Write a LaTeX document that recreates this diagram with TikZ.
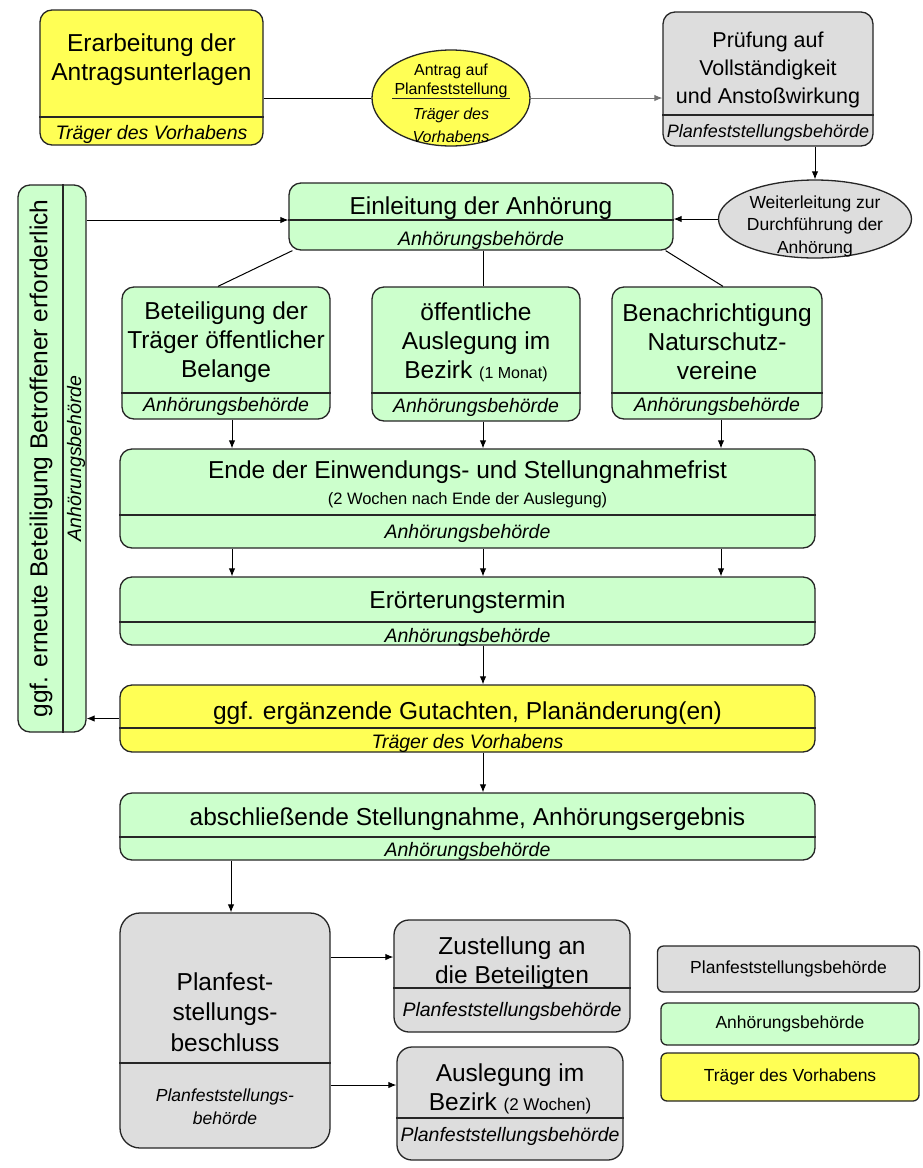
\documentclass[tikz,border=0pt]{standalone}
\usepackage{fontspec}
\setmainfont{Liberation Sans}
\usetikzlibrary{shapes.geometric,arrows.meta}

\definecolor{cYel}{RGB}{255,255,85}
\definecolor{cGrn}{RGB}{204,255,204}
\definecolor{cGry}{RGB}{221,221,221}

\tikzset{
  boxline/.style={draw=black!85, line width=1.3pt},
  stagebox/.style={boxline, rectangle, rounded corners=12pt, inner sep=0pt},
  stagex/.style={},
  titlex/.style={},
  subx/.style={},
  divline/.style={draw=black!85, line width=1.2pt},
  titletext/.style={align=center, inner sep=0pt, font=\fontsize{24.5}{29}\selectfont},
  subtext/.style={align=center, inner sep=0pt, font=\fontsize{19.5}{22.5}\selectfont\itshape},
  elltext/.style={align=center, inner sep=0pt, font=\fontsize{16}{19}\selectfont},
  conn/.style={draw=black, line width=1pt},
  arr/.style={conn, -{Latex[length=8pt,width=6.5pt]}},
  legendbox/.style={boxline, rectangle, rounded corners=6pt, inner sep=0pt, font=\fontsize{17.5}{20}\selectfont},
}

\def\tdy{5}
\def\sdy{2}
% name, fill, x1, y1, x2, y2, ydiv, title, sub
\newcommand\stage[9]{%
  \node[stagebox, stagex, fill=#2, minimum width={#5-#3}, minimum height={#6-#4}] (#1) at ({(#3+#5)/2},{(#4+#6)/2}) {};
  \coordinate (#1-d) at (0,#7);
  \draw[divline] (#1.west |- #1-d) -- (#1.east |- #1-d);
  \node[titletext, titlex] (#1-t) at ({(#3+#5)/2},{(#4+#7)/2+\tdy}) {#8};
  \node[subtext, subx] (#1-s) at ({(#3+#5)/2},{(#7+#6)/2+\sdy}) {#9};
}

\begin{document}
\begin{tikzpicture}[x=1pt,y=-1pt]
\useasboundingbox (0,0) rectangle (922,1168);
\fill[white] (0,0) rectangle (922,1168);

% column coordinates
\coordinate (colL) at (232,0);
\coordinate (colM) at (483,0);
\coordinate (colR) at (721,0);
\coordinate (colP) at (231,0);
\coordinate (yA) at (0,957);
\coordinate (yB) at (0,1085);

% top row
\def\tdy{-3.5}\def\sdy{3}
\stage{erarb}{cYel}{40}{10}{263}{145}{117}{Erarbeitung der\\Antragsunterlagen}{Träger des Vorhabens}

\node[ellipse, boxline, fill=cYel, minimum width=158, minimum height=96, inner sep=0pt] (antrag) at (451,98) {};
\node[elltext] (antrag-1) at (451,71) {Antrag auf};
\node[elltext] (antrag-2) at (451,90.5) {Planfeststellung};
\coordinate (ul1) at (392,98);
\coordinate (ul2) at (510,98);
\draw[divline, line width=1pt] (ul1) -- (ul2);
\node[elltext, font=\fontsize{16}{19}\selectfont\itshape] (antrag-3) at (451,115.5) {Träger des};
\node[elltext, font=\fontsize{16}{19}\selectfont\itshape] (antrag-4) at (451,137) {Vorhabens};

\def\tdy{6.5}\def\sdy{2.5}
\tikzset{titlex/.style={font=\fontsize{21.5}{28}\selectfont}, subx/.style={font=\fontsize{18}{20}\selectfont\itshape}}
\stage{pruef}{cGry}{663}{12}{873}{146}{115}{Prüfung auf\\Vollständigkeit\\und Anstoßwirkung}{Planfeststellungsbehörde}
\tikzset{titlex/.style={}, subx/.style={}}

\node[ellipse, boxline, fill=cGry, minimum width=193, minimum height=78, inner sep=0pt] (weiter) at (815,219) {};
\node[elltext, font=\fontsize{17.5}{22.5}\selectfont] (weiter-t) at (815,226) {Weiterleitung zur\\Durchführung der\\Anhörung};

% left vertical box
\node[stagebox, fill=cGrn, minimum width=68, minimum height=547] (left) at (52,458.5) {};
\coordinate (left-d) at (63,0);
\draw[divline] (left-d |- left.north) -- (left-d |- left.south);
\node[titletext, rotate=90] (left-t) at (41,458.5) {ggf. erneute Beteiligung Betroffener erforderlich};
\node[subtext, rotate=90] (left-s) at (76,458.5) {Anhörungsbehörde};

% Einleitung
\def\tdy{7}\def\sdy{5}
\stage{einl}{cGrn}{289}{183}{673}{250}{220}{Einleitung der Anhörung}{Anhörungsbehörde}

% three boxes
\def\tdy{2}\def\sdy{0.5}
\stage{bet}{cGrn}{122}{287}{330}{419}{393}{Beteiligung der\\Träger öffentlicher\\Belange}{Anhörungsbehörde}
\stage{oef}{cGrn}{372}{287}{580}{421}{393}{öffentliche\\Auslegung im\\Bezirk {\fontsize{16}{18}\selectfont (1 Monat)}}{Anhörungsbehörde}
\stage{ben}{cGrn}{612}{287}{822}{419}{393}{Benachrichtigung\\Naturschutz-\\vereine}{Anhörungsbehörde}

% Ende box (two-line title)
\node[stagebox, fill=cGrn, minimum width=695, minimum height=99] (ende) at (467.5,498.5) {};
\coordinate (ende-d) at (0,515);
\draw[divline] (ende.west |- ende-d) -- (ende.east |- ende-d);
\node[titletext] (ende-t) at (467.5,472.5) {Ende der Einwendungs- und Stellungnahmefrist};
\node[titletext, font=\fontsize{16.5}{19}\selectfont] (ende-t2) at (467.5,500.5) {(2 Wochen nach Ende der Auslegung)};
\node[subtext] (ende-s) at (467.5,533) {Anhörungsbehörde};

\def\tdy{3}\def\sdy{3.5}
\stage{eror}{cGrn}{120}{577}{815}{645}{622}{Erörterungstermin}{Anhörungsbehörde}
\def\tdy{7}\def\sdy{3.5}
\stage{ggf}{cYel}{120}{685}{815}{752}{728}{ggf. ergänzende Gutachten, Planänderung(en)}{Träger des Vorhabens}
\def\tdy{4}\def\sdy{2.5}
\stage{absch}{cGrn}{120}{793}{815}{860}{837}{abschließende Stellungnahme, Anhörungsergebnis}{Anhörungsbehörde}

% bottom
\tikzset{stagex/.style={rounded corners=20pt}, titlex/.style={font=\fontsize{24.5}{30.5}\selectfont}, subx/.style={font=\fontsize{17.5}{22.5}\selectfont\itshape}}
\def\tdy{24}\def\sdy{1}
\stage{planf}{cGry}{120}{913}{330}{1148}{1063}{Planfest-\\stellungs-\\beschluss}{Planfeststellungs-\\behörde}
\tikzset{stagex/.style={rounded corners=15pt}, titlex/.style={}, subx/.style={}}
\def\tdy{8.5}\def\sdy{1}
\stage{zust}{cGry}{394}{920}{630}{1032}{988}{Zustellung an\\die Beteiligten}{Planfeststellungsbehörde}
\def\tdy{6}\def\sdy{-3}
\stage{ausl}{cGry}{397}{1047}{623}{1160}{1118}{Auslegung im\\Bezirk {\fontsize{17}{19}\selectfont (2 Wochen)}}{Planfeststellungsbehörde}

% legend
\node[legendbox, fill=cGry, minimum width=262, minimum height=46] (lg1) at (788.5,969) {Planfeststellungsbehörde};
\node[legendbox, fill=cGrn, minimum width=258, minimum height=42] (lg2) at (790,1024) {Anhörungsbehörde};
\node[legendbox, fill=cYel, minimum width=258, minimum height=48] (lg3) at (790,1077) {Träger des Vorhabens};

% connectors
\draw[conn] (erarb.east |- antrag) -- (antrag.west);
\draw[arr, draw=black!55] (antrag.east) -- (pruef.west |- antrag.east);
\draw[arr] (pruef.south -| weiter.north) -- (weiter.north);
\draw[arr] (weiter.west) -- (einl.east |- weiter.west);
\draw[arr] (left.east |- einl-d) -- (einl.west |- einl-d);

\draw[conn] ([xshift=4pt]einl.south west) -- ([xshift=-8pt]bet.north);
\draw[conn] (einl.south -| colM) -- (oef.north -| colM);
\draw[conn] ([xshift=-8pt]einl.south east) -- ([xshift=6pt]ben.north);

\draw[arr] (bet.south -| colL) -- (ende.north -| colL);
\draw[arr] (oef.south -| colM) -- (ende.north -| colM);
\draw[arr] (ben.south -| colR) -- (ende.north -| colR);

\draw[arr] (ende.south -| colL) -- (eror.north -| colL);
\draw[arr] (ende.south -| colM) -- (eror.north -| colM);
\draw[arr] (ende.south -| colR) -- (eror.north -| colR);

\draw[arr] (eror.south -| colM) -- (ggf.north -| colM);
\draw[arr] (ggf.west) -- (left.east |- ggf.west);
\draw[arr] (ggf.south -| colM) -- (absch.north -| colM);
\draw[arr] (absch.south -| colP) -- (planf.north -| colP);

\draw[arr] (planf.east |- yA) -- (zust.west |- yA);
\draw[arr] (planf.east |- yB) -- (ausl.west |- yB);
\end{tikzpicture}
\end{document}
